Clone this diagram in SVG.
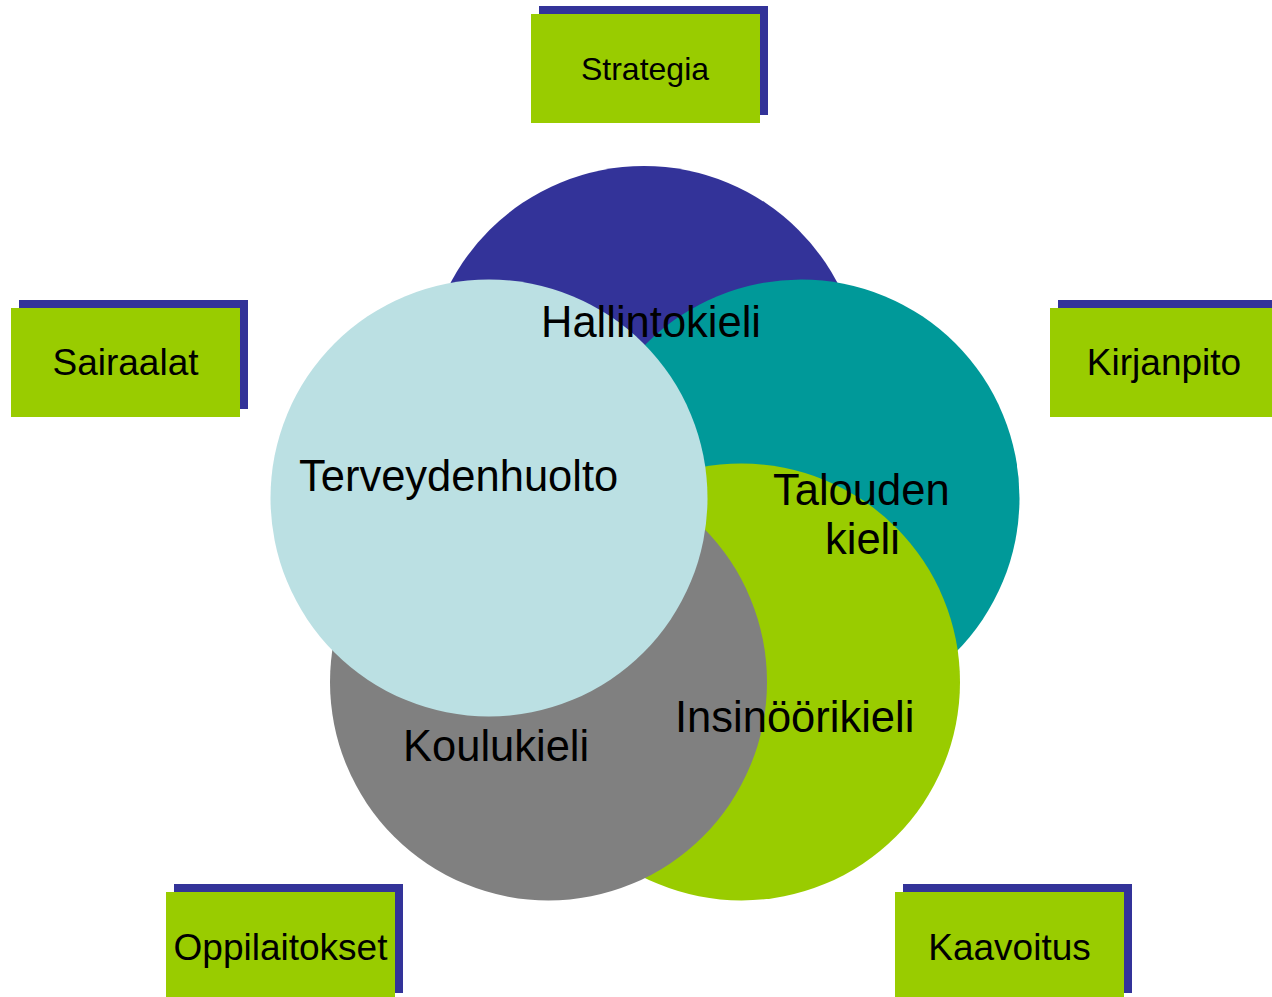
<svg xmlns="http://www.w3.org/2000/svg" width="1272" height="997" viewBox="0 0 1272 997">
<style>
.lbl{font-family:"Liberation Sans",Arial,sans-serif;font-size:43.5px;fill:#000}
.box{fill:#99CC00}
.shd{fill:#333399}
.bt{font-family:"Liberation Sans",Arial,sans-serif;font-size:37px;fill:#000;text-anchor:middle}
</style>
<rect width="1272" height="997" fill="#fff"/>
<g id="circles">
<circle id="c-hallinto" cx="644" cy="384.5" r="218.5" fill="#333399"/>
<circle id="c-talous" cx="801" cy="498" r="218.5" fill="#009999"/>
<circle id="c-insinoori" cx="741.5" cy="682" r="218.5" fill="#99CC00"/>
<circle id="c-koulu" cx="548.5" cy="682" r="218.5" fill="#808080"/>
<circle id="c-terveys" cx="489" cy="498" r="218.5" fill="#BBE0E3"/>
</g>
<g id="circle-labels">
<text class="lbl" x="541" y="337">Hallintokieli</text>
<text class="lbl" x="299" y="491">Terveydenhuolto</text>
<text class="lbl" x="773" y="505">Talouden</text>
<text class="lbl" x="825" y="554">kieli</text>
<text class="lbl" x="403" y="761">Koulukieli</text>
<text class="lbl" x="675" y="732">Insinöörikieli</text>
</g>
<g id="n-strategia">
<rect class="shd" x="539" y="6" width="229" height="109"/>
<rect class="box" x="531" y="14" width="229" height="109"/>
<text class="bt" x="645" y="80" style="font-size:32px">Strategia</text>
</g>
<g id="n-sairaalat">
<rect class="shd" x="19" y="300" width="229" height="109"/>
<rect class="box" x="11" y="308" width="229" height="109"/>
<text class="bt" x="125.5" y="375">Sairaalat</text>
</g>
<g id="n-kirjanpito">
<rect class="shd" x="1058" y="300" width="229" height="109"/>
<rect class="box" x="1050" y="308" width="229" height="109"/>
<text class="bt" x="1164" y="375">Kirjanpito</text>
</g>
<g id="n-oppilaitokset">
<rect class="shd" x="174" y="884" width="229" height="109"/>
<rect class="box" x="166" y="892" width="229" height="109"/>
<text class="bt" x="280.5" y="960">Oppilaitokset</text>
</g>
<g id="n-kaavoitus">
<rect class="shd" x="903" y="884" width="229" height="109"/>
<rect class="box" x="895" y="892" width="229" height="109"/>
<text class="bt" x="1009.5" y="960">Kaavoitus</text>
</g>
<g id="connectors"></g>
</svg>
